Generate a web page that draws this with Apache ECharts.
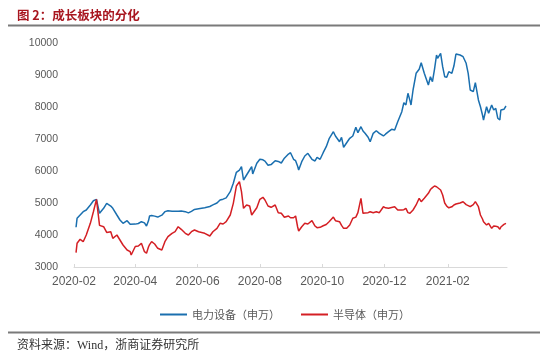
<!DOCTYPE html>
<html>
<head>
<meta charset="utf-8">
<script src="https://cdn.jsdelivr.net/npm/echarts@6/dist/echarts.min.js"></script>
<style>
html,body{margin:0;padding:0;background:#fff;}
#c{width:550px;height:364px;}
</style>
</head>
<body>
<div id="c"></div>
<script>
const titleText = '图 2：成长板块的分化';
const sourceText = '资料来源：Wind，浙商证券研究所';
const seriesNames = ['电力设备（申万）', '半导体（申万）'];
const tickLabels = ['2020-02', '2020-04', '2020-06', '2020-08', '2020-10', '2020-12', '2021-02'];
const yTicks = [3000, 4000, 5000, 6000, 7000, 8000, 9000, 10000];

const dates = [
'2020-02-03','2020-02-04','2020-02-07','2020-02-10','2020-02-13','2020-02-17','2020-02-20','2020-02-23','2020-02-26',
'2020-03-01','2020-03-04','2020-03-08','2020-03-10','2020-03-14','2020-03-17','2020-03-20','2020-03-24','2020-03-27','2020-03-28',
'2020-04-01','2020-04-04','2020-04-07','2020-04-10','2020-04-12','2020-04-14','2020-04-15','2020-04-17','2020-04-20','2020-04-23','2020-04-27','2020-04-30',
'2020-05-03','2020-05-07','2020-05-10','2020-05-13','2020-05-16','2020-05-20','2020-05-23','2020-05-26','2020-05-29',
'2020-06-02','2020-06-08','2020-06-13','2020-06-16','2020-06-20','2020-06-23','2020-06-26','2020-06-29',
'2020-07-03','2020-07-06','2020-07-09','2020-07-12','2020-07-14','2020-07-16','2020-07-19','2020-07-22','2020-07-24','2020-07-25','2020-07-29',
'2020-08-01','2020-08-04','2020-08-06','2020-08-09','2020-08-12','2020-08-16','2020-08-19','2020-08-22','2020-08-25','2020-08-29','2020-08-31',
'2020-09-03','2020-09-05','2020-09-07','2020-09-08','2020-09-11','2020-09-14','2020-09-17','2020-09-21','2020-09-24','2020-09-26','2020-09-29',
'2020-10-02','2020-10-05','2020-10-08','2020-10-12','2020-10-14','2020-10-18','2020-10-20','2020-10-22','2020-10-25','2020-10-28','2020-10-31',
'2020-11-03','2020-11-05','2020-11-08','2020-11-10','2020-11-12','2020-11-15','2020-11-17','2020-11-20','2020-11-23','2020-11-26','2020-11-30',
'2020-12-02','2020-12-05','2020-12-08','2020-12-11','2020-12-14','2020-12-18','2020-12-20','2020-12-22','2020-12-24','2020-12-26','2020-12-27','2020-12-29',
'2021-01-01','2021-01-04','2021-01-06','2021-01-09','2021-01-10','2021-01-13','2021-01-15','2021-01-17','2021-01-19','2021-01-21','2021-01-22','2021-01-25','2021-01-27','2021-01-29','2021-01-31',
'2021-02-02','2021-02-05','2021-02-07','2021-02-09','2021-02-13','2021-02-16','2021-02-19','2021-02-21','2021-02-23','2021-02-26','2021-02-28',
'2021-03-03','2021-03-05','2021-03-07','2021-03-08','2021-03-11','2021-03-13','2021-03-16','2021-03-18','2021-03-20','2021-03-22','2021-03-24','2021-03-25','2021-03-28','2021-03-30'
];

const powerEquip = [
4241,4522,4625,4728,4781,4937,5072,5115,4678,
4834,4990,4906,4834,4625,4469,4365,4447,4334,4350,
4340,4360,4416,4380,4281,4450,4594,4610,4590,4560,4620,4730,
4759,4745,4745,4745,4750,4730,4690,4740,4800,
4820,4850,4890,4940,5000,5094,5120,5160,
5353,5616,5960,6030,6134,5719,5875,6031,6134,5906,6241,
6366,6350,6310,6180,6200,6320,6300,6250,6400,6530,6572,
6366,6322,6150,6031,6291,6469,6553,6366,6313,6428,6366,
6572,6759,7022,7228,7094,6916,7053,6741,6884,7022,7094,
7366,7197,7384,7250,7178,7053,6916,7178,7259,7178,7094,
7150,7228,7303,7281,7541,7853,8134,8063,8428,8200,8063,8531,
9053,9178,9384,9053,9103,8688,8947,8791,9178,9625,9522,9678,9259,8947,8928,
9103,9053,9281,9656,9625,9572,9366,9053,8531,8478,8759,
8219,8009,7750,7594,8009,7803,8063,7906,7959,7647,7594,7906,7928,8031
];

const semiconductor = [
3447,3740,3866,3791,4000,4365,4728,5115,4300,
4259,4080,4103,3897,4000,3844,3688,3531,3478,3375,
3640,3656,3740,3478,3430,3634,3700,3791,3719,3584,3531,3791,
3947,4053,4103,4259,4178,4053,4000,4103,4156,
4103,4053,3969,4103,4209,4365,4344,4416,
4625,4990,5531,5666,5353,4834,4938,4906,4625,4650,4850,
5115,5178,5094,4906,4866,4938,4697,4678,4553,4594,4540,
4540,4594,4250,4125,4259,4365,4344,4447,4281,4230,4240,
4290,4330,4420,4560,4447,4416,4300,4209,4209,4313,4522,
4560,4700,5147,4678,4690,4697,4728,4697,4728,4697,4884,
4850,4834,4860,4884,4781,4781,4790,4834,4700,4678,4720,4781,
4938,5147,5041,5150,5197,5303,5420,5480,5531,5509,5470,5406,5250,5000,4900,
4850,4880,4938,4970,5000,5041,4950,4920,4884,4950,5041,
4884,4625,4500,4416,4313,4365,4209,4281,4270,4259,4178,4250,4330,4365
];

const axisStart = '2020-02-01';
const axisEnd = '2021-03-31';

function dayIndex(s) {
  const p = s.split('-').map(Number);
  const q = axisStart.split('-').map(Number);
  return Math.round((Date.UTC(p[0], p[1] - 1, p[2] || 1) - Date.UTC(q[0], q[1] - 1, q[2])) / 86400000);
}

const tickValues = tickLabels.map(dayIndex);
const chart = echarts.init(document.getElementById('c'), null, {renderer: 'canvas'});

const option = {
  animation: false,
  backgroundColor: '#ffffff',
  grid: {left: 74, right: 43, top: 43, bottom: 97},
  legend: {
    data: seriesNames,
    left: 155,
    top: 304,
    icon: 'rect',
    itemWidth: 27,
    itemHeight: 2,
    itemGap: 21,
    textStyle: {fontSize: 11, color: '#595959', fontFamily: '"Noto Sans CJK SC", sans-serif'}
  },
  xAxis: {
    type: 'value',
    min: 0,
    max: dayIndex(axisEnd),
    axisLine: {show: true, lineStyle: {color: '#d9d9d9', width: 1}},
    axisTick: {show: true, inside: true, length: 3, customValues: tickValues, lineStyle: {color: '#d9d9d9'}},
    axisLabel: {
      customValues: tickValues,
      fontSize: 12,
      color: '#595959',
      margin: 9,
      fontFamily: '"Liberation Sans", Arial, sans-serif',
      formatter: function (v) {
        const i = tickValues.indexOf(Math.round(v));
        return i >= 0 ? tickLabels[i] : '';
      }
    },
    splitLine: {show: false}
  },
  yAxis: {
    type: 'value',
    min: yTicks[0],
    max: yTicks[yTicks.length - 1],
    interval: 1000,
    axisLine: {show: false},
    axisTick: {show: false},
    splitLine: {show: false},
    axisLabel: {
      fontSize: 10.5, color: '#595959', margin: 16,
      fontFamily: '"Liberation Sans", Arial, sans-serif',
      formatter: function (v) { return String(v); }
    }
  },
  series: [
    {
      name: seriesNames[0],
      type: 'line',
      showSymbol: false,
      symbol: 'none',
      color: '#1a6faf',
      lineStyle: {width: 1.5, color: '#1a6faf'},
      data: dates.map((d, i) => [dayIndex(d), powerEquip[i]])
    },
    {
      name: seriesNames[1],
      type: 'line',
      showSymbol: false,
      symbol: 'none',
      color: '#d41f24',
      lineStyle: {width: 1.5, color: '#d41f24'},
      data: dates.map((d, i) => [dayIndex(d), semiconductor[i]])
    }
  ],
  graphic: [
    {type: 'text', x: 17, y: 15, style: {text: titleText, fill: '#a8161f', font: 'bold 12.5px "Noto Sans CJK SC", sans-serif', verticalAlign: 'middle', textVerticalAlign: 'middle'}},
    {type: 'line', shape: {x1: 8, y1: 25.5, x2: 540, y2: 25.5}, style: {stroke: '#7a7a7a', lineWidth: 2}},
    {type: 'line', shape: {x1: 8, y1: 332.5, x2: 540, y2: 332.5}, style: {stroke: '#7a7a7a', lineWidth: 2}},
    {type: 'text', x: 17, y: 346, style: {text: sourceText, fill: '#333333', font: '12px "Liberation Serif", "Noto Sans CJK SC", serif', verticalAlign: 'middle', textVerticalAlign: 'middle'}}
  ]
};
chart.setOption(option);
</script>
</body>
</html>
